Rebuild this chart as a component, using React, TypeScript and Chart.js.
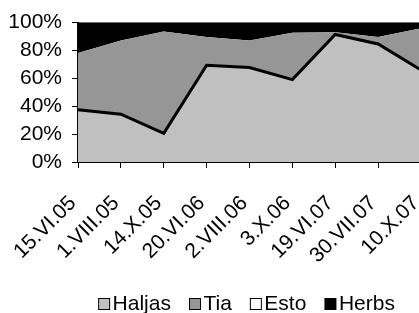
import React, { useEffect, useRef } from 'react';
import { Chart, registerables } from 'chart.js';

Chart.register(...registerables);

const categories = ['15.VI.05', '1.VIII.05', '14.X.05', '20.VI.06', '2.VIII.06', '3.X.06', '19.VI.07', '30.VII.07', '10.X.07'];
const haljas = [37.4, 34.3, 20.6, 69.4, 67.8, 59.1, 91.5, 84.7, 66.0];
const tia = [40.8, 52.9, 73.0, 20.2, 19.4, 33.6, 1.5, 4.9, 30.0];
const esto = [0, 0, 0, 0, 0, 0, 0, 0, 0];
const herbs = [21.8, 12.8, 6.4, 10.4, 12.8, 7.3, 7.0, 10.4, 4.0];
const yTicks = [0, 20, 40, 60, 80, 100];
const seriesNames = ['Haljas', 'Tia', 'Esto', 'Herbs'];
const seriesColors = ['#c0c0c0', '#969696', '#ffffff', '#000000'];

const FONT = "'Liberation Sans', Arial, sans-serif";
const FS = 21;
const CANVAS_W = 445;
const CANVAS_H = 313;
const LEGEND_SHIFT = 20;

function makeLegendBox(fill: string): HTMLCanvasElement {
  const c = document.createElement('canvas');
  c.width = 28;
  c.height = 12;
  const ctx = c.getContext('2d')!;
  ctx.fillStyle = fill;
  ctx.fillRect(12, 0, 12, 12);
  ctx.strokeStyle = '#000';
  ctx.lineWidth = 1;
  ctx.strokeRect(12.5, 0.5, 11, 11);
  return c;
}

const shiftLegend = {
  id: 'shiftLegend',
  afterLayout(chart: any) {
    const l = chart.legend;
    if (l) {
      l.left += LEGEND_SHIFT;
      l.right += LEGEND_SHIFT;
    }
  },
};

export default function App() {
  const ref = useRef<HTMLCanvasElement | null>(null);

  useEffect(() => {
    if (!ref.current) return;
    const boxes = seriesColors.map(makeLegendBox);
    const values = [haljas, tia, esto, herbs];
    const chart = new Chart(ref.current, {
      type: 'line',
      data: {
        labels: categories,
        datasets: values.map((v, i) => ({
          label: seriesNames[i],
          data: v,
          backgroundColor: seriesColors[i],
          borderColor: i === 0 ? '#000000' : 'rgba(0,0,0,0)',
          borderWidth: i === 0 ? 3 : 0,
          fill: i === 0 ? 'origin' : '-1',
          pointRadius: 0,
          pointHoverRadius: 0,
          tension: 0,
        })),
      },
      options: {
        responsive: false,
        animation: false,
        events: [],
        layout: { padding: { top: 8, left: 8, right: 0, bottom: -11.5 } },
        scales: {
          x: {
            offset: false,
            grid: {
              drawOnChartArea: false,
              tickColor: '#000',
              tickLength: 6,
              offset: false,
            },
            border: { color: '#000', width: 2 },
            ticks: {
              autoSkip: false,
              minRotation: 45,
              maxRotation: 45,
              color: '#000',
              font: { family: FONT, size: FS },
              padding: 23,
              labelOffset: -5,
            },
            afterFit: (scale: any) => {
              scale.height = 113.5;
              scale.paddingLeft = 0;
              scale.paddingRight = 24;
            },
          },
          y: {
            stacked: true,
            min: 0,
            max: 100,
            grid: {
              color: (ctx: any) => (ctx.tick && ctx.tick.value === 100 ? '#808080' : 'rgba(0,0,0,0)'),
              tickColor: '#000',
              tickLength: 6,
            },
            border: { color: '#000', width: 2 },
            ticks: {
              autoSkip: false,
              color: '#000',
              font: { family: FONT, size: FS },
              padding: 10,
              callback: (v: any) => v + '%',
            },
            afterBuildTicks: (scale: any) => {
              scale.ticks = yTicks.map((v) => ({ value: v }));
            },
            afterFit: (scale: any) => {
              scale.width = 70;
            },
          },
        },
        plugins: {
          tooltip: { enabled: false },
          legend: {
            position: 'bottom',
            labels: {
              color: '#000',
              font: { family: FONT, size: FS },
              usePointStyle: true,
              boxWidth: 4,
              boxHeight: 12,
              padding: 18,
              generateLabels: (ch: any) => {
                const base = Chart.defaults.plugins.legend.labels.generateLabels(ch);
                return base.map((item: any, i: number) => ({ ...item, pointStyle: boxes[i] }));
              },
            },
          },
        },
      },
      plugins: [shiftLegend],
    });
    return () => chart.destroy();
  }, []);

  return (
    <div style={{ position: 'absolute', left: 0, top: 0, width: 419, height: 313, overflow: 'hidden', background: '#fff' }}>
      <canvas ref={ref} width={CANVAS_W} height={CANVAS_H} style={{ display: 'block' }} />
    </div>
  );
}
